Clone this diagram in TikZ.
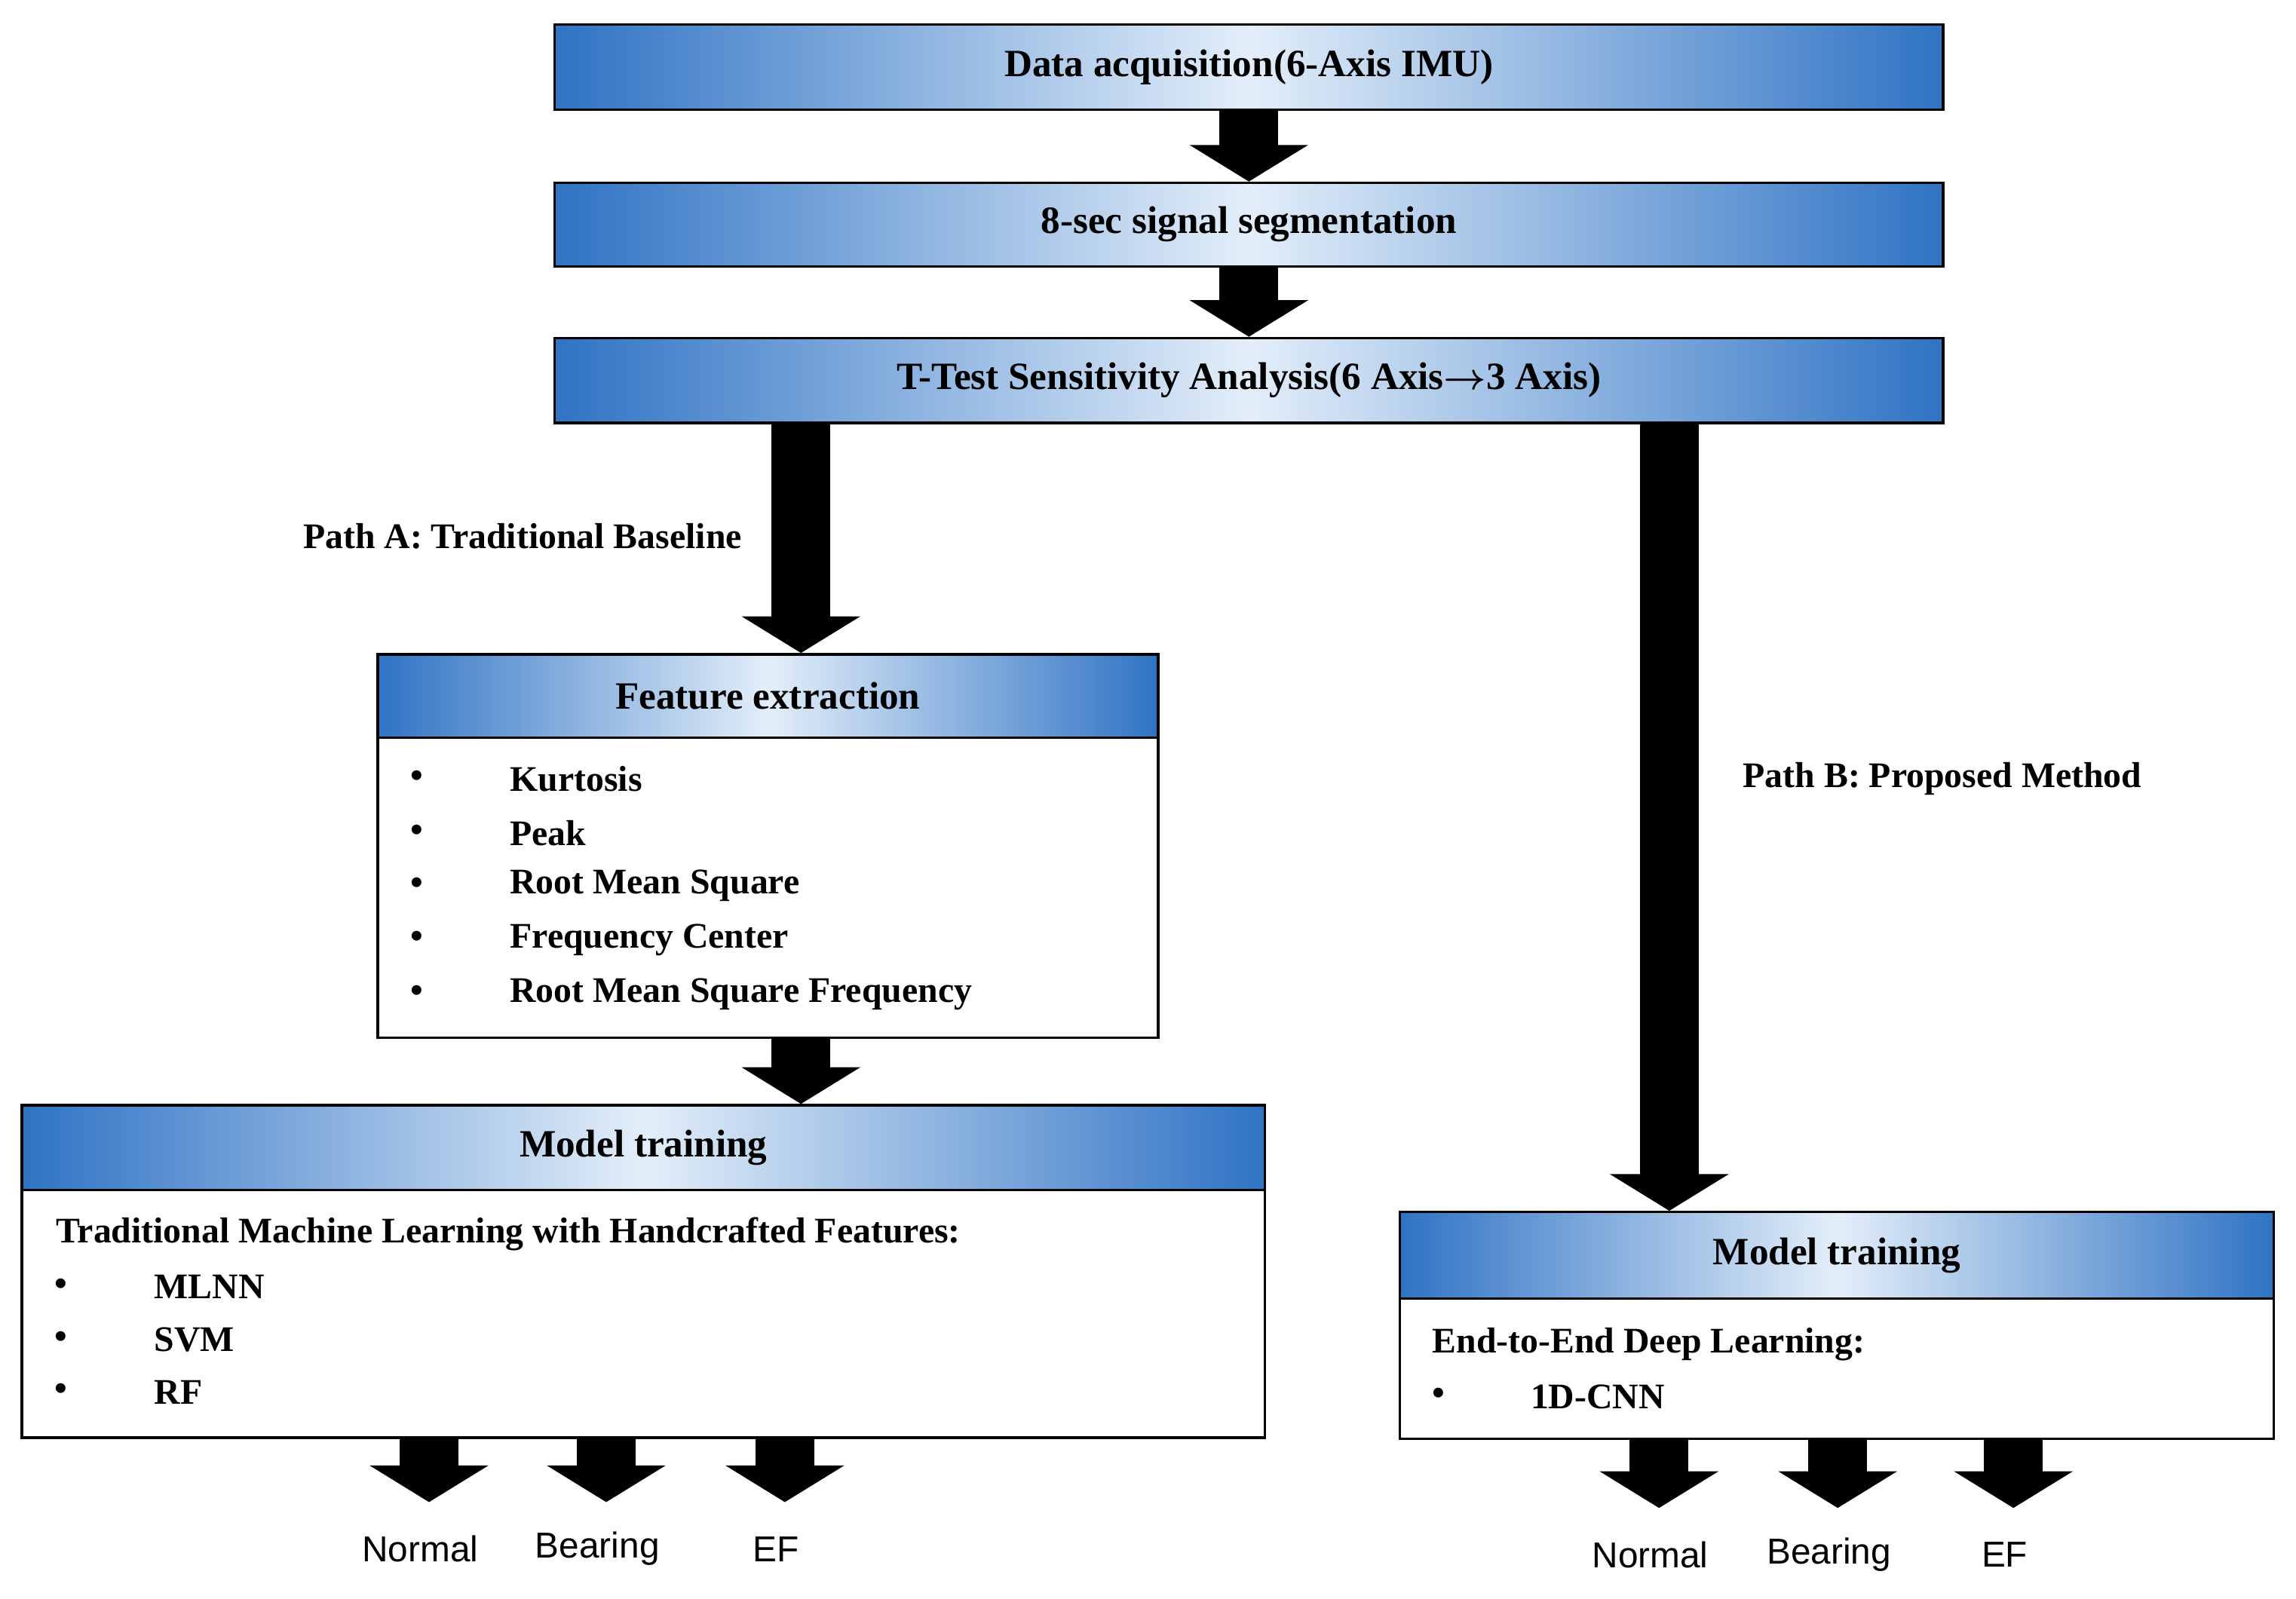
\documentclass[tikz,border=0pt]{standalone}
\usepackage{amsmath}
\usepackage{fontspec}
\setmainfont{Liberation Serif}
\newfontfamily\labelfont{Liberation Sans}
\usetikzlibrary{arrows.meta,positioning}
\definecolor{hdrblue}{HTML}{2F73C4}
\definecolor{hdrlight}{HTML}{E3EEF9}
\tikzset{
  header/.style={draw, line width=1pt, anchor=north west, inner sep=0pt,
    left color=hdrblue, right color=hdrblue, middle color=hdrlight,
    font=\fontsize{15}{18}\selectfont\bfseries},
  body/.style={draw, line width=1pt, anchor=north west, inner sep=0pt, fill=white},
  item/.style={anchor=west, font=\fontsize{14}{17}\selectfont\bfseries, inner sep=0pt},
  fat/.style={line width=8mm, -{Triangle[length=5mm,width=16mm]}},
  outlbl/.style={font=\labelfont\fontsize{14}{17}\selectfont}
}
\begin{document}
\begin{tikzpicture}[x=0.2mm, y=-0.2mm]
    \useasboundingbox (0,0) rectangle (1568,1092);

    % Top stages
    \node[header, minimum width=189.6mm, minimum height=11.6mm] (acq) at (378,16) {Data acquisition(6-Axis IMU)};
    \node[header, minimum width=189.6mm, minimum height=11.4mm] (seg) at (378,124) {8-sec signal segmentation};
    \node[header, minimum width=189.6mm, minimum height=11.6mm] (ttest) at (378,230) {T-Test Sensitivity Analysis(6 Axis$\boldsymbol{\rightarrow}$3 Axis)};

    % Path A: feature extraction
    \node[header, minimum width=106.6mm, minimum height=11.4mm] (feat) at (257,446) {Feature extraction};
    \node[body, minimum width=106.6mm, minimum height=41mm] (featbody) at (257,503) {};
    \foreach \y/\txt in {532/Kurtosis, 569/Peak, 605/Root Mean Square, 642/Frequency Center, 679/Root Mean Square Frequency} {
        \node[item] at (280,\y) {\textbullet};
        \node[item] at (348,\y) {\txt};
    }

    % Path A: model training
    \node[header, minimum width=169.8mm, minimum height=11.6mm] (trainA) at (14,754) {Model training};
    \node[body, minimum width=169.8mm, minimum height=33.8mm] (trainAbody) at (14,812) {};
    \node[item] (tml) at (38,843) {Traditional Machine Learning with Handcrafted Features:};
    \foreach \y/\txt in {879/MLNN, 915/SVM, 951/RF} {
        \node[item] at (37,\y) {\textbullet};
        \node[item] at (105,\y) {\txt};
    }

    % Path B: model training
    \node[header, minimum width=119.4mm, minimum height=11.8mm] (trainB) at (955,827) {Model training};
    \node[body, minimum width=119.4mm, minimum height=19.2mm] (trainBbody) at (955,886) {};
    \node[item] (e2e) at (978,918) {End-to-End Deep Learning:};
    \node[item] at (978,954) {\textbullet};
    \node[item] at (1045,954) {1D-CNN};

    % Path labels
    \node[item, anchor=east] (pathA) at (507,366) {Path A: Traditional Baseline};
    \node[item] (pathB) at (1190,532) {Path B: Proposed Method};

    % Arrows
    \draw[fat] (acq.south) -- (seg.north);
    \draw[fat] (seg.south) -- (ttest.north);
    \draw[fat] (ttest.south -| 547,0) -- (feat.north -| 547,0);
    \draw[fat] (ttest.south -| 1140,0) -- (trainB.north -| 1140,0);
    \draw[fat] (featbody.south -| 547,0) -- (trainA.north -| 547,0);

    % Outputs
    \foreach \x/\txt [count=\i] in {293/Normal, 414/Bearing, 536/EF} {
        \node[outlbl] (outA\i) at (\x-6,1058) {\txt};
        \draw[fat] (trainAbody.south -| \x,0) -- (\x,1026);
    }
    \foreach \x/\txt [count=\i] in {1133/Normal, 1255/Bearing, 1375/EF} {
        \node[outlbl] (outB\i) at (\x-6,1062) {\txt};
        \draw[fat] (trainBbody.south -| \x,0) -- (\x,1030);
    }
\end{tikzpicture}
\end{document}
